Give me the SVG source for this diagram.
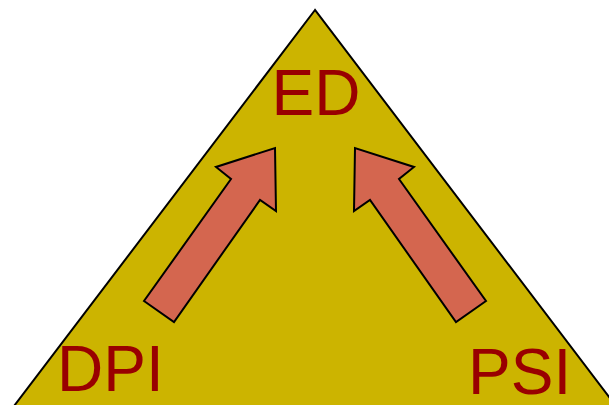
<svg xmlns="http://www.w3.org/2000/svg" width="609" height="405" viewBox="0 0 609 405">
<style>
.tri{fill:#CCB400;stroke:#000;stroke-width:2}
.arr{fill:#D4664F;stroke:#000;stroke-width:2;stroke-linejoin:miter}
.lbl{font-family:"Liberation Sans",Arial,sans-serif;font-size:64px;fill:#990000}
</style>
<rect width="609" height="405" fill="#fff"/>
<g id="triangle"><polygon class="tri" points="315,10 11,410 619,410"/></g>
<g id="connectors">
<polygon class="arr" points="144,301 174,322 260,200 276,211 275,148 216,167 231,179"/>
<polygon class="arr" points="486,301 456,322 370,200 354,211 355,148 414,167 399,179"/>
</g>
<g id="ED"><text class="lbl" x="316" y="115" text-anchor="middle">ED</text></g>
<g id="DPI"><text class="lbl" x="57" y="391">DPI</text></g>
<g id="PSI"><text class="lbl" x="468" y="394">PSI</text></g>
</svg>
